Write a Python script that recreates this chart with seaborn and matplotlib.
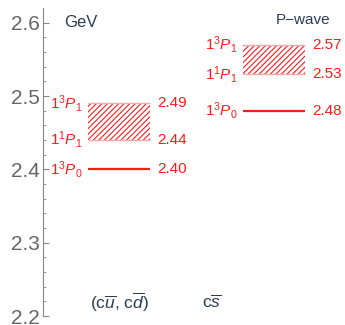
import numpy as np
import seaborn as sns
import matplotlib
matplotlib.use('Agg')
from matplotlib import pyplot as plt

sns.set_style('ticks')
plt.rcParams['font.family'] = ['Liberation Sans', 'DejaVu Sans']
plt.rcParams['mathtext.fontset'] = 'custom'
plt.rcParams['mathtext.rm'] = 'Liberation Sans'
plt.rcParams['mathtext.it'] = 'Liberation Sans:italic'
plt.rcParams['hatch.linewidth'] = 0.8

# data: P-wave masses in GeV
systems = ['(c$\\overline{u}$, c$\\overline{d}$)', 'c$\\overline{s}$']
m_3P0 = [2.40, 2.48]
m_1P1 = [2.44, 2.53]
m_3P1 = [2.49, 2.57]
yticks = [2.2, 2.3, 2.4, 2.5, 2.6]

red = '#ff1a1a'
navy = '#2b3b58'
grey = '#666666'

fig = plt.figure(figsize=(3.45, 3.25), dpi=100)
ax = fig.add_axes([43 / 345, 9 / 325, 302 / 345, 308 / 325])
ax.set_xlim(0, 302)
ax.set_ylim(2.2, 2.62)

centers = [76, 231]
half = 31
for i, c in enumerate(centers):
    x0, x1 = c - half, c + half
    ax.hlines(m_3P0[i], x0, x1, color=red, lw=1.6)
    ax.fill_between([x0, x1], m_1P1[i], m_3P1[i], facecolor='none',
                    edgecolor=red, hatch='//////', lw=0)
    ax.hlines([m_1P1[i], m_3P1[i]], x0, x1, color='#f7a8a8', lw=1.0)
    for m, lab in [(m_3P0[i], '1$^3$$\\mathit{P}_0$'),
                   (m_1P1[i], '1$^1$$\\mathit{P}_1$'),
                   (m_3P1[i], '1$^3$$\\mathit{P}_1$')]:
        ax.text(x0 - 5, m, lab, color=red, fontsize=11, ha='right', va='center')
        ax.text(x1 + 7, m, '%.2f' % m, color=red, fontsize=11, ha='left', va='center')
    ax.text(c + (0 if i == 0 else -62), 2.219, systems[i], color=navy, fontsize=12.5,
            ha='center', va='center')

ax.text(21, 2.600, 'GeV', color=navy, fontsize=12, ha='left', va='center')
ax.text(287, 2.604, 'P\u2212wave', color=navy, fontsize=11, ha='right', va='center')

ax.set_yticks(yticks)
ax.set_yticklabels(['%.1f' % t for t in yticks])
ax.set_yticks(np.arange(2.2, 2.62, 0.02), minor=True)
ax.tick_params(axis='y', which='major', direction='in', length=4, width=0.8,
               color='#888888', labelsize=15, labelcolor=grey, pad=2)
ax.tick_params(axis='y', which='minor', direction='in', length=2.5, width=0.6,
               color='#888888')
ax.set_xticks([])
sns.despine(ax=ax, top=True, right=True, bottom=True)
ax.spines['left'].set_color('#888888')
ax.spines['left'].set_linewidth(0.8)

fig.savefig('out.png', dpi=100)
